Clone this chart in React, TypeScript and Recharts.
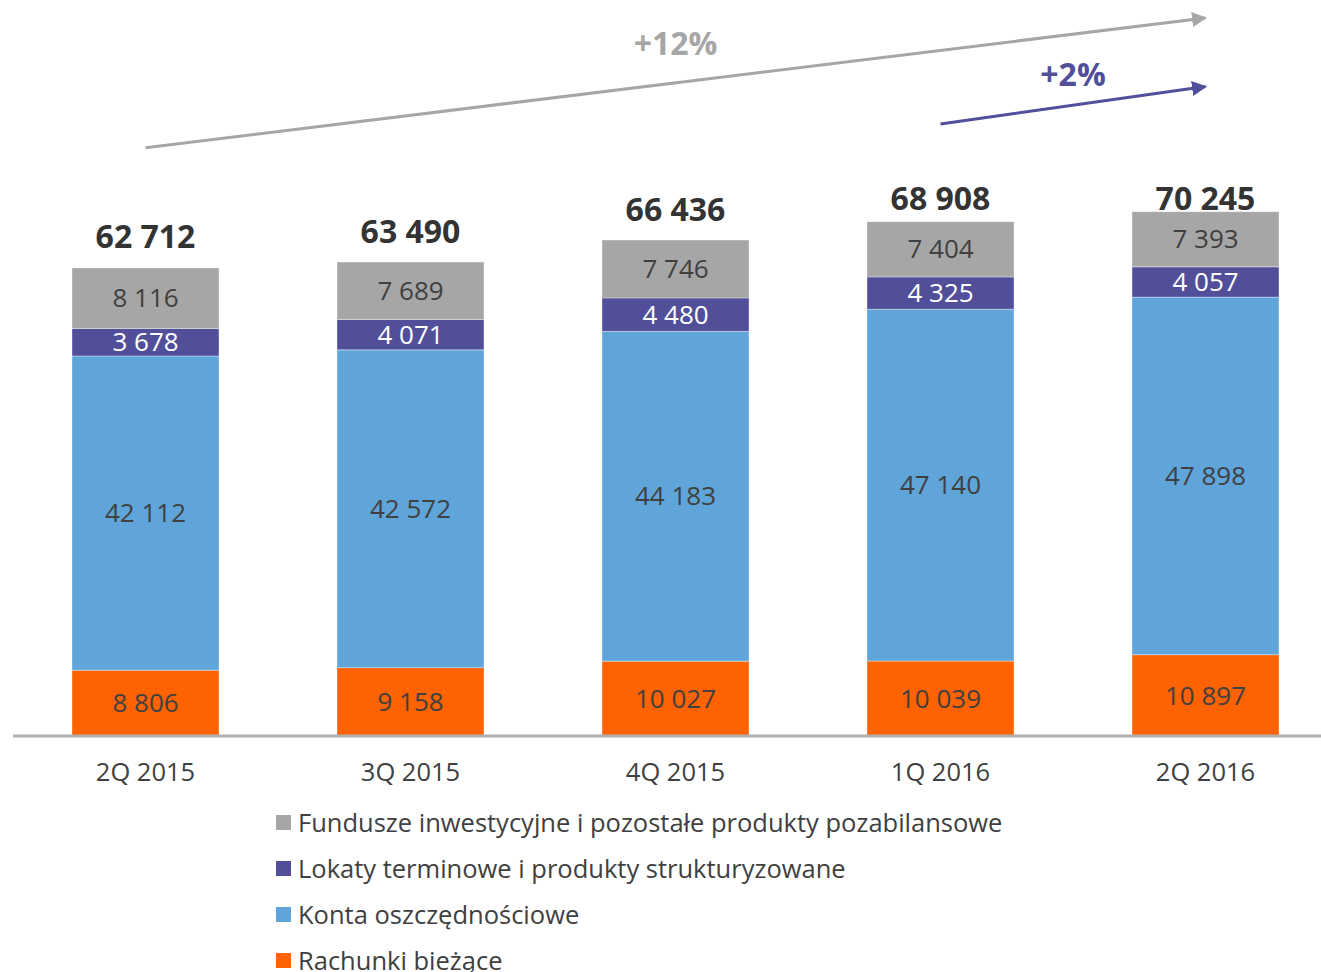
import React from 'react'
import {
  BarChart,
  Bar,
  XAxis,
  YAxis,
  Legend,
  LabelList,
  ReferenceLine,
} from 'recharts'

const quarters = ['2Q 2015', '3Q 2015', '4Q 2015', '1Q 2016', '2Q 2016']
const rachunki = [8806, 9158, 10027, 10039, 10897]
const konta = [42112, 42572, 44183, 47140, 47898]
const lokaty = [3678, 4071, 4480, 4325, 4057]
const fundusze = [8116, 7689, 7746, 7404, 7393]
const totals = [62712, 63490, 66436, 68908, 70245]

const seriesNames = {
  rachunki: 'Rachunki bieżące',
  konta: 'Konta oszczędnościowe',
  lokaty: 'Lokaty terminowe i produkty strukturyzowane',
  fundusze: 'Fundusze inwestycyjne i pozostałe produkty pozabilansowe',
}

// growth arrows (data units) and their labels
const growthTotal = { from: quarters[0], to: quarters[4], y1: 78800, y2: 96200, text: '+12%' }
const growthQoQ = { from: quarters[3], to: quarters[4], y1: 82000, y2: 87000, text: '+2%' }

const COLORS = {
  rachunki: '#FF6200',
  konta: '#5FA5D9',
  lokaty: '#524F9A',
  fundusze: '#A6A6A6',
}

const FONT = '"Open Sans", sans-serif'
const TEXT = '#404040'

const data = quarters.map((q, i) => ({
  quarter: q,
  rachunki: rachunki[i],
  konta: konta[i],
  lokaty: lokaty[i],
  fundusze: fundusze[i],
  total: totals[i],
}))

const fmt = (v: any) => String(v).replace(/\B(?=(\d{3})+(?!\d))/g, ' ')

function TotalLabel(props: any) {
  const { x, y, width, index } = props
  // labels get pushed down near the top of the plot, as in the original
  const ty = Math.max(y - 32, 197)
  return (
    <text
      x={x + width / 2}
      y={ty}
      textAnchor="middle"
      dominantBaseline="central"
      fontFamily={FONT}
      fontSize={32}
      fontWeight={700}
      fill="#333333"
    >
      {fmt(totals[index])}
    </text>
  )
}

function ArrowLabel(props: any) {
  const { viewBox, text, color, lift } = props
  const cx = viewBox.x + viewBox.width / 2
  const cy = viewBox.y + viewBox.height / 2 - lift
  return (
    <text
      x={cx}
      y={cy}
      textAnchor="middle"
      dominantBaseline="central"
      fontFamily={FONT}
      fontSize={32}
      fontWeight={700}
      fill={color}
    >
      {text}
    </text>
  )
}

function LegendBox() {
  const items = [
    { key: 'fundusze', name: seriesNames.fundusze },
    { key: 'lokaty', name: seriesNames.lokaty },
    { key: 'konta', name: seriesNames.konta },
    { key: 'rachunki', name: seriesNames.rachunki },
  ]
  return (
    <div style={{ fontFamily: FONT, fontSize: 25.5, color: TEXT }}>
      {items.map((it) => (
        <div key={it.key} style={{ display: 'flex', alignItems: 'center', height: 46 }}>
          <span
            style={{
              display: 'inline-block',
              width: 15,
              height: 15,
              background: (COLORS as any)[it.key],
              marginRight: 7,
            }}
          />
          <span>{it.name}</span>
        </div>
      ))}
    </div>
  )
}

export default function App() {
  const segLabel = (fill: string) => ({
    position: 'center' as const,
    formatter: fmt,
    fill,
    fontFamily: FONT,
    fontSize: 26,
  })

  return (
    <div
      style={{
        position: 'absolute',
        left: 0,
        top: 0,
        width: 1321,
        height: 972,
        overflow: 'hidden',
        background: '#fff',
      }}
    >
      <BarChart
        width={1338}
        height={972}
        data={data}
        margin={{ top: 0, right: 0, bottom: 196, left: 13 }}
        barSize={147}
      >
        <defs>
          <marker id="arrGray" viewBox="0 0 10 10" refX="9" refY="5" markerWidth="5" markerHeight="5" orient="auto">
            <path d="M0,0 L10,5 L0,10 z" fill="#A6A6A6" />
          </marker>
          <marker id="arrPurple" viewBox="0 0 10 10" refX="9" refY="5" markerWidth="5" markerHeight="5" orient="auto">
            <path d="M0,0 L10,5 L0,10 z" fill="#524F9A" />
          </marker>
        </defs>
        <XAxis
          dataKey="quarter"
          height={40}
          tickLine={false}
          axisLine={{ stroke: '#B0B0B0', strokeWidth: 3 }}
          tick={{ fill: TEXT, fontFamily: FONT, fontSize: 25.5 }}
          tickMargin={21}
          interval={0}
        />
        <YAxis hide domain={[0, 98600]} allowDataOverflow />
        <Legend
          layout="vertical"
          align="center"
          verticalAlign="middle"
          wrapperStyle={{ top: 799, left: 276, width: 'auto' }}
          content={<LegendBox />}
        />
        <Bar dataKey="rachunki" stackId="a" fill={COLORS.rachunki} isAnimationActive={false} stroke="#ffffff" strokeOpacity={0.35} strokeWidth={1}>
          <LabelList dataKey="rachunki" {...segLabel(TEXT)} />
        </Bar>
        <Bar dataKey="konta" stackId="a" fill={COLORS.konta} isAnimationActive={false} stroke="#ffffff" strokeOpacity={0.35} strokeWidth={1}>
          <LabelList dataKey="konta" {...segLabel(TEXT)} />
        </Bar>
        <Bar dataKey="lokaty" stackId="a" fill={COLORS.lokaty} isAnimationActive={false} stroke="#ffffff" strokeOpacity={0.35} strokeWidth={1}>
          <LabelList dataKey="lokaty" {...segLabel('#ffffff')} />
        </Bar>
        <Bar dataKey="fundusze" stackId="a" fill={COLORS.fundusze} isAnimationActive={false} stroke="#ffffff" strokeOpacity={0.35} strokeWidth={1}>
          <LabelList dataKey="fundusze" {...segLabel(TEXT)} />
          <LabelList dataKey="total" content={<TotalLabel />} />
        </Bar>
        <ReferenceLine
          segment={[
            { x: growthTotal.from, y: growthTotal.y1 },
            { x: growthTotal.to, y: growthTotal.y2 },
          ]}
          stroke="#A6A6A6"
          strokeWidth={3}
          markerEnd="url(#arrGray)"
          ifOverflow="visible"
          label={<ArrowLabel text={growthTotal.text} color="#A6A6A6" lift={40} />}
        />
        <ReferenceLine
          segment={[
            { x: growthQoQ.from, y: growthQoQ.y1 },
            { x: growthQoQ.to, y: growthQoQ.y2 },
          ]}
          stroke="#524F9A"
          strokeWidth={3}
          markerEnd="url(#arrPurple)"
          ifOverflow="visible"
          label={<ArrowLabel text={growthQoQ.text} color="#524F9A" lift={32} />}
        />
      </BarChart>
    </div>
  )
}
